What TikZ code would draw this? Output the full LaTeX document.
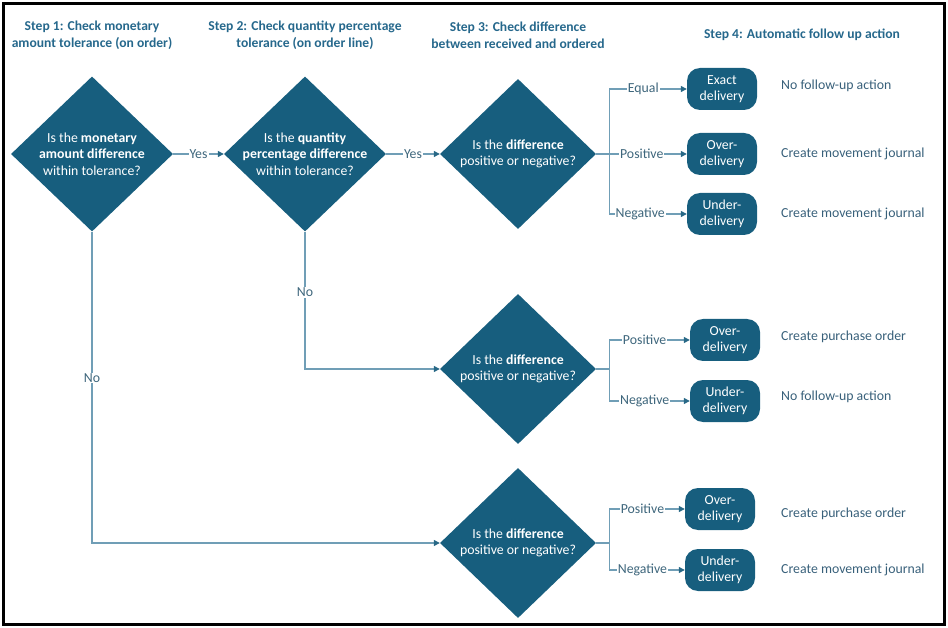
\documentclass[tikz,border=0pt]{standalone}
\usepackage{fontspec}
\setmainfont{Carlito}
\usetikzlibrary{shapes.geometric, arrows.meta, positioning}
\definecolor{deepblue}{RGB}{23, 94, 126}
\definecolor{lineblue}{RGB}{112, 158, 182}
\definecolor{tipblue}{RGB}{40, 104, 134}
\definecolor{headblue}{RGB}{38, 104, 140}
\definecolor{labelblue}{RGB}{62, 102, 124}
\definecolor{actionblue}{RGB}{56, 96, 122}
\tikzset{
  font=\fontsize{13.8}{16.5}\selectfont,
  stephead/.style={
    text=headblue, align=center, inner sep=0pt,
    font=\fontsize{13.6}{17}\selectfont\bfseries
  },
  decision/.style={
    diamond, fill=deepblue, inner sep=0pt,
    minimum width=162pt, minimum height=155pt
  },
  decisiontext/.style={text=white, align=center, inner sep=0pt},
  outcome/.style={
    rectangle, rounded corners=13pt, fill=deepblue, text=white,
    minimum width=70pt, minimum height=42pt, inner sep=0pt, align=center
  },
  action/.style={anchor=west, text=actionblue, inner sep=0pt},
  edgelabel/.style={fill=white, text=labelblue, inner sep=1pt},
  flowline/.style={
    draw=lineblue, line width=1.2pt,
    -{Triangle[length=6pt, width=6pt, color=tipblue]}
  },
  splitline/.style={draw=lineblue, line width=1.2pt}
}
\begin{document}
\begin{tikzpicture}[x=1pt, y=-1pt]
  \useasboundingbox (0,0) rectangle (948,628);
  \draw[line width=3pt] (3.5,3.5) rectangle (944.5,624.5);

  % Step headings
  \node[stephead] (head1) at (92,35) {Step 1: Check monetary\\amount tolerance (on order)};
  \node[stephead] (head2) at (305,35) {Step 2: Check quantity percentage\\tolerance (on order line)};
  \node[stephead] (head3) at (518,35) {Step 3: Check difference\\between received and ordered};
  \node[stephead] (head4) at (802,35) {Step 4: Automatic follow up action};

  % Tolerance checks
  \node[decision, label={[decisiontext]center:{Is the \textbf{monetary}\\\textbf{amount difference}\\within tolerance?}}] (money) at (92,154) {};
  \node[decision, label={[decisiontext]center:{Is the \textbf{quantity}\\\textbf{percentage difference}\\within tolerance?}}] (qty) at (305,154) {};

  % Difference checks
  \node[decision, minimum width=156pt, minimum height=150pt, label={[decisiontext]center:{Is the \textbf{difference}\\positive or negative?}}] (diffa) at (518,154) {};
  \node[decision, minimum width=156pt, minimum height=150pt, label={[decisiontext]center:{Is the \textbf{difference}\\positive or negative?}}] (diffb) at (518,369) {};
  \node[decision, minimum width=156pt, minimum height=150pt, label={[decisiontext]center:{Is the \textbf{difference}\\positive or negative?}}] (diffc) at (518,543) {};

  % Outcomes
  \node[outcome] (exacta) at (722,89) {Exact\\delivery};
  \node[outcome] (overa) at (722,154) {Over-\\delivery};
  \node[outcome] (undera) at (722,214) {Under-\\delivery};
  \node[outcome] (overb) at (725,340) {Over-\\delivery};
  \node[outcome] (underb) at (725,401) {Under-\\delivery};
  \node[outcome] (overc) at (720,509) {Over-\\delivery};
  \node[outcome] (underc) at (720,570) {Under-\\delivery};

  % Follow-up actions
  \node[action] (acta1) at (781,86) {No follow-up action};
  \node[action] (acta2) at (781,154) {Create movement journal};
  \node[action] (acta3) at (781,214) {Create movement journal};
  \node[action] (actb1) at (781,337) {Create purchase order};
  \node[action] (actb2) at (781,397) {No follow-up action};
  \node[action] (actc1) at (781,514) {Create purchase order};
  \node[action] (actc2) at (781,570) {Create movement journal};

  % Split points
  \coordinate[right=13pt of diffa.east] (splita);
  \coordinate[right=13pt of diffb.east] (splitb);
  \coordinate[right=13pt of diffc.east] (splitc);

  % Flows
  \draw[flowline] (money.east) -- node[edgelabel] {Yes} (qty.west);
  \draw[flowline] (qty.east) -- node[edgelabel] {Yes} (diffa.west);
  \draw[flowline] (qty.south) |- node[edgelabel, pos=0.22] {No} (diffb.west);
  \draw[flowline] (money.south) |- node[edgelabel, pos=0.235] {No} (diffc.west);

  \draw[splitline] (diffa.east) -- (splita);
  \draw[flowline] (splita) |- node[edgelabel, pos=0.72] {Equal} (exacta.west);
  \draw[flowline] (splita) -- node[edgelabel, pos=0.42] {Positive} (overa.west);
  \draw[flowline] (splita) |- node[edgelabel, pos=0.7] {Negative} (undera.west);

  \draw[splitline] (diffb.east) -- (splitb);
  \draw[flowline] (splitb) |- node[edgelabel, pos=0.72] {Positive} (overb.west);
  \draw[flowline] (splitb) |- node[edgelabel, pos=0.72] {Negative} (underb.west);

  \draw[splitline] (diffc.east) -- (splitc);
  \draw[flowline] (splitc) |- node[edgelabel, pos=0.72] {Positive} (overc.west);
  \draw[flowline] (splitc) |- node[edgelabel, pos=0.72] {Negative} (underc.west);
\end{tikzpicture}
\end{document}
